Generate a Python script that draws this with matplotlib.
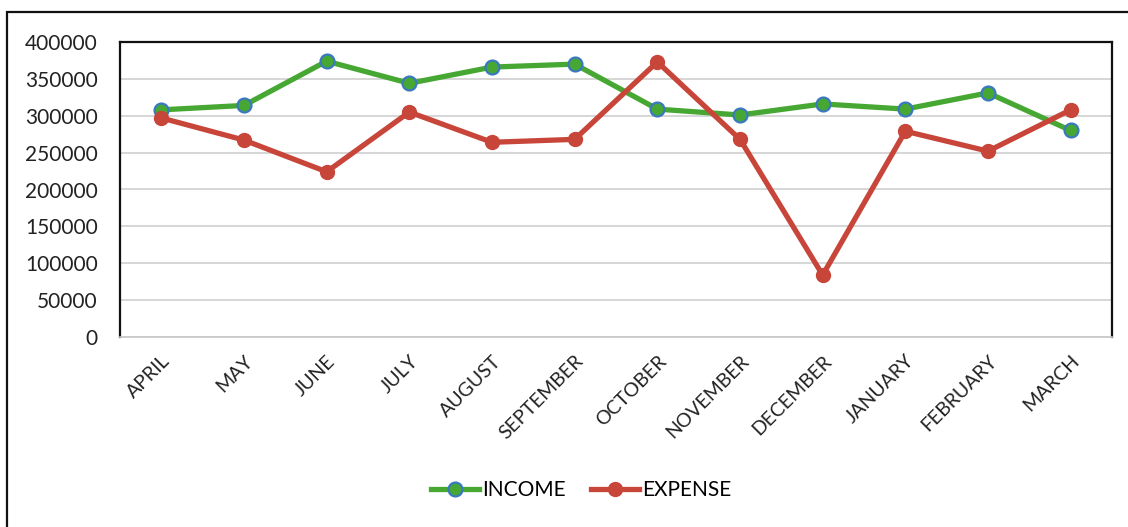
import matplotlib
matplotlib.use("Agg")
import matplotlib.pyplot as plt
from matplotlib.patches import Rectangle

months = ["APRIL", "MAY", "JUNE", "JULY", "AUGUST", "SEPTEMBER", "OCTOBER",
          "NOVEMBER", "DECEMBER", "JANUARY", "FEBRUARY", "MARCH"]
income = [308000, 314000, 374000, 344000, 366000, 370000, 309000,
          301000, 316000, 309000, 331000, 280000]
expense = [297000, 267000, 224000, 305000, 264000, 268000, 373000,
           268000, 84000, 279000, 252000, 308000]
yticks = [0, 50000, 100000, 150000, 200000, 250000, 300000, 350000, 400000]

plt.rcParams['font.family'] = ['Lato', 'DejaVu Sans']

fig = plt.figure(figsize=(11.28, 5.27), dpi=100)
fig.patches.append(Rectangle((7/1128, -0.05), 1.2, 1 - 12/527 + 0.05,
                             transform=fig.transFigure, fill=False,
                             edgecolor='#111111', linewidth=1.6))
ax = fig.add_axes([120/1128, 1 - 337/527, (1112-120)/1128, (337-42)/527])

x = range(len(months))
ax.plot(x, income, color='#46A832', linewidth=3.8, marker='o', markersize=10,
        markerfacecolor='#46A832', markeredgecolor='#3A78C0', markeredgewidth=1.6,
        label='INCOME', zorder=3)
ax.plot(x, expense, color='#C8453A', linewidth=3.8, marker='o', markersize=10,
        markerfacecolor='#C8453A', markeredgecolor='#C8453A',
        label='EXPENSE', zorder=3)

ax.set_ylim(0, 400000)
ax.set_yticks(yticks)
ax.set_yticklabels([str(v) for v in yticks], fontsize=15, color='#222222')
ax.set_xlim(-0.5, len(months) - 0.5)
ax.set_xticks(list(x))
ax.set_xticklabels(months, rotation=45, ha='right', rotation_mode='anchor',
                   fontsize=14, color='#222222')
ax.tick_params(axis='y', length=0, pad=16)
ax.tick_params(axis='x', length=0, pad=11)
ax.grid(axis='y', color='#D0D0D0', linewidth=1.2)
ax.set_axisbelow(True)
for s in ax.spines.values():
    s.set_color('#111111')
    s.set_linewidth(1.6)
ax.spines['bottom'].set_color('#C8C8C8')
ax.spines['bottom'].set_linewidth(1.2)

ax.legend(loc='center', bbox_to_anchor=(0.465, -0.52), ncol=2, frameon=False,
          fontsize=15, handlelength=2.3, columnspacing=1.2, handletextpad=0.15)

fig.savefig('out.png', dpi=100)
